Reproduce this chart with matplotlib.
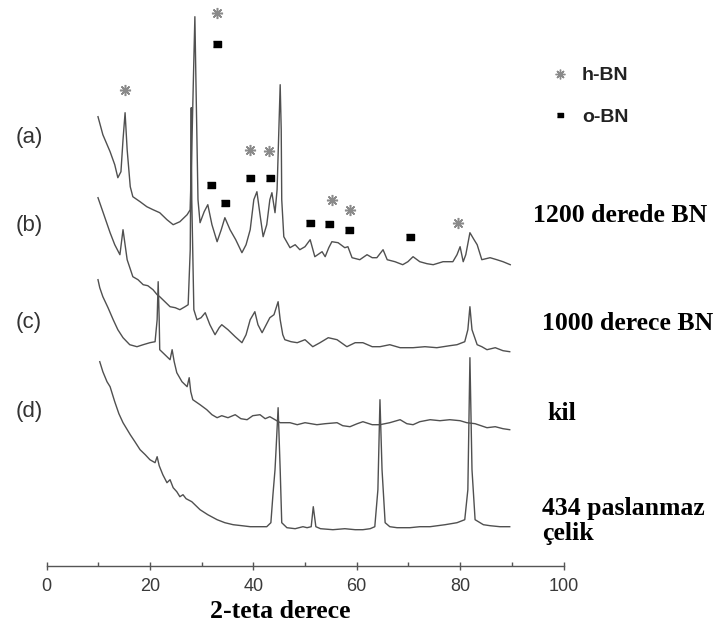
import matplotlib
matplotlib.use("Agg")
import matplotlib.pyplot as plt
from matplotlib.lines import Line2D
from matplotlib.ticker import MultipleLocator

W, H = 722, 627

# ---- data: 2-theta (deg) and stacked intensity (a.u., offset included) ----
a_x = [9.96, 10.9, 12.3, 13.2, 13.8, 14.4, 14.8, 15.2, 15.6, 16.2, 16.7, 18.1, 19.4, 20.6,
       21.9, 23.3, 24.5, 25.8, 27.2, 27.8, 28.1, 28.5, 28.7, 28.9, 29.3, 29.7, 30.5, 31.2,
       32.0, 33.0, 33.8, 34.5, 35.5, 36.6, 37.8, 38.6, 39.4, 40.1, 40.7, 41.3, 41.9, 42.6,
       43.2, 43.6, 44.2, 44.6, 45.0, 45.2, 45.4, 45.5, 45.9, 47.1, 48.1, 49.0, 50.0, 51.0,
       51.9, 53.3, 53.9, 54.6, 55.2, 56.4, 57.7, 58.3, 59.1, 60.6, 62.0, 63.0, 63.9, 65.1,
       65.9, 67.4, 68.9, 69.9, 70.9, 72.2, 73.6, 74.8, 76.7, 78.6, 79.4, 80.0, 80.6, 81.1,
       81.9, 82.7, 83.3, 84.2, 85.8, 87.1, 88.3, 89.7]
a_y = [449, 431, 414, 401, 388, 394, 426, 453, 416, 379, 369, 364, 359, 356,
       353, 346, 341, 344, 351, 356, 416, 506, 549, 486, 366, 343, 354, 361,
       341, 324, 336, 348, 336, 326, 313, 321, 336, 366, 374, 351, 329, 341,
       366, 373, 353, 376, 446, 481, 436, 366, 329, 318, 321, 316, 319, 326,
       309, 314, 309, 318, 324, 323, 318, 319, 308, 306, 311, 308, 308, 316,
       306, 304, 301, 304, 309, 304, 302, 301, 304, 304, 311, 319, 304, 311,
       333, 326, 321, 306, 308, 306, 304, 301]

b_x = [9.96, 11.1, 12.3, 13.2, 14.2, 14.8, 15.2, 15.6, 16.7, 17.7, 18.7, 19.6, 20.6, 21.4,
       21.9, 22.9, 23.9, 24.9, 25.8, 26.8, 27.4, 27.8, 28.0, 28.1, 28.5, 29.1, 29.9, 30.7,
       31.6, 32.6, 33.4, 33.9, 35.1, 36.5, 37.8, 38.6, 39.4, 40.3, 40.9, 41.7, 42.5, 43.2,
       44.0, 44.8, 45.2, 45.7, 46.1, 47.3, 48.5, 50.0, 51.5, 52.9, 54.5, 56.2, 58.1, 59.7,
       61.2, 63.0, 64.5, 66.4, 68.4, 70.9, 73.2, 75.5, 78.0, 79.4, 80.9, 81.5, 81.9, 82.3,
       83.3, 84.2, 85.2, 86.8, 88.3, 89.6]
b_y = [368, 351, 333, 321, 311, 336, 321, 306, 289, 286, 281, 280, 276, 271,
       269, 264, 259, 258, 256, 259, 261, 316, 458, 366, 256, 246, 248, 253,
       241, 231, 238, 241, 236, 229, 223, 231, 246, 254, 241, 233, 241, 248,
       251, 264, 246, 231, 226, 224, 223, 226, 219, 223, 228, 226, 219, 223,
       223, 219, 219, 221, 218, 218, 219, 218, 220, 221, 224, 236, 259, 236,
       221, 219, 216, 218, 215, 214]

c_x = [9.96, 10.3, 10.9, 11.9, 12.9, 13.8, 14.8, 16.1, 17.5, 18.7, 20.0, 21.0, 21.4, 21.6,
       21.8, 21.9, 22.9, 23.9, 24.3, 24.7, 25.2, 26.2, 27.2, 27.6, 27.9, 28.3, 29.7, 31.0,
       32.0, 33.0, 33.9, 35.1, 36.5, 37.6, 38.8, 39.9, 41.3, 42.3, 43.2, 44.2, 45.2, 47.1,
       48.5, 50.0, 52.3, 53.9, 56.2, 57.3, 58.7, 60.1, 61.2, 63.0, 64.5, 66.4, 68.4, 69.7,
       70.9, 72.2, 74.2, 76.1, 78.0, 80.0, 81.3, 82.9, 85.2, 86.8, 88.3, 89.6]
c_y = [286, 278, 269, 258, 246, 236, 228, 221, 219, 221, 223, 224, 246, 284,
       246, 216, 211, 206, 216, 204, 193, 184, 179, 188, 174, 166, 161, 156,
       151, 148, 150, 148, 151, 147, 146, 150, 151, 147, 149, 146, 143, 143,
       141, 143, 141, 142, 143, 140, 139, 142, 144, 141, 141, 143, 146, 142,
       141, 144, 146, 145, 146, 145, 143, 142, 138, 139, 137, 136]

d_x = [10.3, 10.9, 11.7, 12.3, 13.2, 14.0, 14.8, 16.2, 17.1, 18.1, 19.1, 20.0, 21.0, 21.4,
       21.8, 22.5, 23.3, 23.9, 24.5, 25.2, 25.8, 26.4, 27.0, 28.1, 28.9, 29.7, 31.2, 33.0,
       34.5, 36.1, 37.8, 39.4, 41.3, 42.6, 43.4, 43.8, 44.2, 44.4, 44.8, 45.2, 45.5, 46.5,
       48.1, 49.6, 50.4, 51.2, 51.6, 52.1, 53.0, 55.4, 57.7, 59.7, 61.2, 62.6, 63.5, 64.1,
       64.5, 64.9, 65.5, 66.4, 67.8, 70.3, 72.2, 74.2, 77.1, 79.4, 80.9, 81.5, 81.9, 82.3,
       82.9, 84.5, 85.8, 87.7, 89.6]
d_y = [204, 194, 184, 179, 164, 152, 143, 131, 124, 116, 111, 106, 103, 109,
       100, 91, 83, 86, 78, 74, 69, 71, 67, 64, 60, 56, 51, 46,
       43, 41, 40, 39, 39, 39, 43, 71, 96, 116, 158, 96, 43, 38,
       37, 39, 38, 39, 59, 39, 37, 36, 37, 36, 36, 37, 39, 76,
       166, 96, 43, 39, 38, 38, 39, 39, 41, 43, 46, 76, 208, 96,
       46, 41, 40, 39, 39]

# phase markers
hbn_x = [15.2, 33.0, 39.4, 43.0, 55.2, 58.7, 79.6]
hbn_y = [476, 553, 416, 415, 366, 356, 343]
obn_x = [33.0, 31.8, 34.5, 39.4, 43.2, 51.0, 54.6, 58.5, 70.3]
obn_y = [522, 381, 363, 388, 388, 343, 342, 336, 329]

curve_letters = ["(a)", "(b)", "(c)", "(d)"]
sample_names = ["1200 derede BN", "1000 derece BN", "kil", "434 paslanmaz\nçelik"]
legend_labels = ["h-BN", "o-BN"]
x_ticks = [0, 20, 40, 60, 80, 100]

# ---- figure ----
fig = plt.figure(figsize=(W / 100, H / 100), dpi=100)
x0, x1, yax = 46.5, 563.5, 565.7
ax = fig.add_axes([x0 / W, (H - yax) / H, (x1 - x0) / W, yax / H])
ax.set_xlim(0, 100)
ax.set_ylim(0, yax)

line_col = "#505050"
for xs, ys in [(a_x, a_y), (b_x, b_y), (c_x, c_y), (d_x, d_y)]:
    ax.plot(xs, ys, color=line_col, lw=1.0, solid_joinstyle="round")

star = (8, 2, 0)
rect = [(-1, -0.7), (1, -0.7), (1, 0.7), (-1, 0.7)]
ax.plot(hbn_x, hbn_y, ls="none", marker=star, ms=8, mew=1.1, color="#8a8a8a", clip_on=False)
ax.plot(obn_x, obn_y, ls="none", marker=rect, ms=6, color="black", clip_on=False)

for s in ["left", "right", "top"]:
    ax.spines[s].set_visible(False)
ax.spines["bottom"].set_color("#555555")
ax.spines["bottom"].set_linewidth(1.0)
ax.set_yticks([])
ax.set_xticks(x_ticks)
ax.xaxis.set_minor_locator(MultipleLocator(10))
ax.tick_params(axis="x", which="major", direction="inout", length=6, width=1,
               color="#555555", labelsize=13, labelcolor="#3a3a3a", pad=6)
ax.tick_params(axis="x", which="minor", direction="in", length=3, width=1, color="#555555")
for lab in ax.get_xticklabels():
    lab.set_fontfamily("Liberation Sans")

def ftext(px, py, s, **kw):
    fig.text(px / W, 1 - py / H, s, **kw)

serif = dict(family="Liberation Serif", weight="bold", fontsize=18.5, color="black")
ftext(280, 611, "2-teta derece", ha="center", va="center", **serif)

letter_y = [137, 225, 322, 412]
for lbl, py in zip(curve_letters, letter_y):
    ftext(29, py, lbl, ha="center", va="center", family="Liberation Sans",
          fontsize=16, color="#333333")

name_pos = [(533, 216), (542, 324), (547, 413), (542, 521)]
for name, (px, py) in zip(sample_names, name_pos):
    ftext(px, py, name, ha="left", va="center", linespacing=1.1, **serif)

handles = [Line2D([], [], ls="none", marker=star, ms=7, mew=1.0, color="#8a8a8a"),
           Line2D([], [], ls="none", marker=rect, ms=5, color="black")]
leg = fig.legend(handles, legend_labels, loc="upper left",
                 bbox_to_anchor=(541 / W, 1 - 57 / H), frameon=False,
                 prop=dict(family="Liberation Sans", weight="bold", size=14),
                 handlelength=1.0, handletextpad=0.6, labelspacing=1.25, borderpad=0)
for t in leg.get_texts():
    t.set_color("#222222")

fig.savefig("out.png", dpi=100)
